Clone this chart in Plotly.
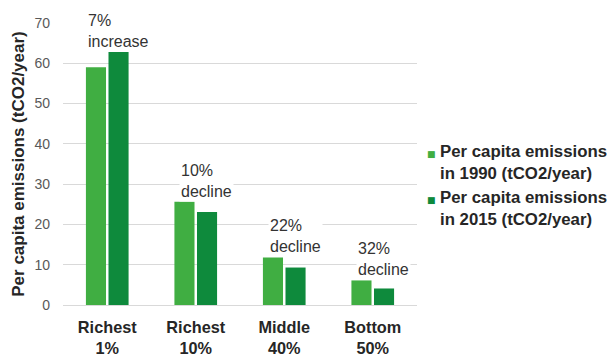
import plotly.graph_objects as go

categories = ["<b>Richest</b><br><b>1%</b>", "<b>Richest</b><br><b>10%</b>",
              "<b>Middle</b><br><b>40%</b>", "<b>Bottom</b><br><b>50%</b>"]
emissions_1990 = [59, 25.6, 11.8, 6.1]
emissions_2015 = [62.8, 23.1, 9.3, 4.1]
change_labels = ["7%<br>increase", "10%<br>decline", "22%<br>decline", "32%<br>decline"]
series_names = ["Per capita emissions<br>in 1990 (tCO2/year)",
                "Per capita emissions<br>in 2015 (tCO2/year)"]
y_ticks = [0, 10, 20, 30, 40, 50, 60, 70]

LIGHT = "#40ae42"
DARK = "#0e8a3c"
FONT = "Liberation Sans, Arial, sans-serif"

fig = go.Figure()
fig.add_trace(go.Bar(x=categories, y=emissions_1990, name=series_names[0],
                     marker=dict(color=LIGHT, line=dict(width=0)), showlegend=False))
fig.add_trace(go.Bar(x=categories, y=emissions_2015, name=series_names[1],
                     marker=dict(color=DARK, line=dict(width=0)), showlegend=False))

for cat, a, b, lab in zip(categories, emissions_1990, emissions_2015, change_labels):
    fig.add_annotation(x=cat, y=max(a, b), text=lab, showarrow=False,
                       xanchor="center", yanchor="bottom", xshift=11, yshift=0,
                       align="left", bgcolor="white", borderpad=1,
                       font=dict(family=FONT, size=16, color="#333333"))

# legend drawn as text
leg_y_text = [0.505, 0.341]
leg_y_sq = [0.534, 0.371]
for name, col, yt, ys in zip(series_names, [LIGHT, DARK], leg_y_text, leg_y_sq):
    fig.add_annotation(xref="paper", yref="paper", x=1.041, y=ys, text="■",
                       showarrow=False, xanchor="center", yanchor="middle",
                       font=dict(family="DejaVu Sans", size=9, color=col))
    fig.add_annotation(xref="paper", yref="paper", x=1.060, y=yt,
                       text="<b>" + name.replace("<br>", "</b><br><b>") + "</b>",
                       showarrow=False, xanchor="left", yanchor="middle", align="left",
                       font=dict(family=FONT, size=16.8, color="#262626"))

fig.update_layout(
    width=615, height=358,
    margin=dict(l=63, r=198, t=23, b=53, autoexpand=False),
    paper_bgcolor="white", plot_bgcolor="white",
    barmode="group", bargap=0.49, bargroupgap=0.11,
    font=dict(family=FONT),
    xaxis=dict(showgrid=False, showline=False, ticks="", automargin=False,
               tickfont=dict(family=FONT, size=16.3, color="#262626"),
               ticklabelstandoff=11),
    yaxis=dict(range=[0, 70], tickvals=y_ticks, showgrid=True, gridcolor="#d9d9d9",
               gridwidth=1, zeroline=True, zerolinecolor="#d9d9d9", zerolinewidth=1,
               showline=False, ticks="", ticklabelstandoff=12, automargin=False,
               tickfont=dict(family=FONT, size=14, color="#595959"),
               title=dict(text="<b>Per capita emissions (tCO2/year)</b>",
                          font=dict(family=FONT, size=17, color="#262626"), standoff=5)),
)

fig.write_html("out.html")
